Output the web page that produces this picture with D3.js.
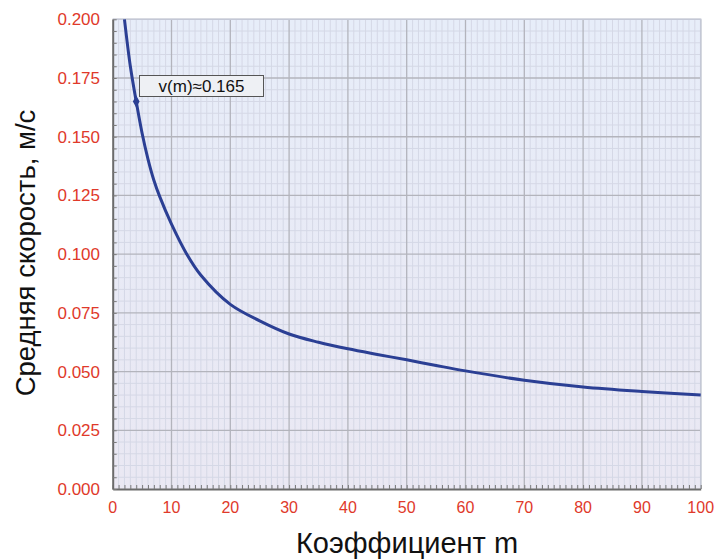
<!DOCTYPE html>
<html>
<head>
<meta charset="utf-8">
<script src="https://cdn.jsdelivr.net/npm/d3@7"></script>
<style>
  body { margin: 0; background: #fff; }
  svg { display: block; font-family: "Liberation Sans", Arial, sans-serif; }
</style>
</head>
<body>
<svg id="chart"></svg>
<script>
// values
var mValues = [2, 3, 4, 5, 6, 7, 8, 10, 12.6, 15, 20, 25, 30, 35, 40, 45, 50, 55, 60, 70, 80, 90, 100];
var vValues = [0.200, 0.180, 0.165, 0.1515, 0.1405, 0.1315, 0.1245, 0.1128, 0.100, 0.091, 0.0786, 0.0716, 0.0660, 0.0625, 0.0597, 0.0573, 0.0550, 0.0526, 0.0503, 0.0463, 0.0434, 0.0415, 0.0400];
var xTicks = [0, 10, 20, 30, 40, 50, 60, 70, 80, 90, 100];
var yTicks = [0, 0.025, 0.05, 0.075, 0.1, 0.125, 0.15, 0.175, 0.2];
var marker = { m: 4, v: 0.165, label: "v(m)\u22480.165" };

var w = 716, h = 559;
var pL = 112.7, pR = 700.7, pT = 19.3, pB = 489;

var svg = d3.select("#chart").attr("width", w).attr("height", h);

var x = d3.scaleLinear().domain([0, 100]).range([pL, pR]);
var y = d3.scaleLinear().domain([0, 0.2]).range([pB, pT]);

var defs = svg.append("defs");
var grad = defs.append("linearGradient").attr("id", "bg")
  .attr("x1", 0).attr("y1", 0).attr("x2", 0).attr("y2", 1);
grad.append("stop").attr("offset", "0%").attr("stop-color", "#e7edf9");
grad.append("stop").attr("offset", "100%").attr("stop-color", "#eae8f3");

svg.append("rect")
  .attr("x", pL).attr("y", pT)
  .attr("width", pR - pL).attr("height", pB - pT)
  .attr("fill", "url(#bg)");

// minor grid
var g = svg.append("g");
g.selectAll("line.mx")
  .data(d3.range(0, 101, 1).filter(function(d){ return d % 10 !== 0; }))
  .enter().append("line").attr("class", "mx")
  .attr("x1", function(d){ return x(d); }).attr("x2", function(d){ return x(d); })
  .attr("y1", pT).attr("y2", pB)
  .attr("stroke", "#d5d8e6").attr("stroke-width", 1);
g.selectAll("line.my")
  .data(d3.range(0, 41, 1).filter(function(d){ return d % 5 !== 0; }))
  .enter().append("line").attr("class", "my")
  .attr("y1", function(d){ return y(d * 0.005); }).attr("y2", function(d){ return y(d * 0.005); })
  .attr("x1", pL).attr("x2", pR)
  .attr("stroke", "#d5d8e6").attr("stroke-width", 1);

// major grid
g.selectAll("line.Mx")
  .data(xTicks.slice(1))
  .enter().append("line").attr("class", "Mx")
  .attr("x1", function(d){ return x(d); }).attr("x2", function(d){ return x(d); })
  .attr("y1", pT).attr("y2", pB)
  .attr("stroke", "#b3b4bc").attr("stroke-width", 1.3);
g.selectAll("line.My")
  .data(yTicks.slice(1))
  .enter().append("line").attr("class", "My")
  .attr("y1", function(d){ return y(d); }).attr("y2", function(d){ return y(d); })
  .attr("x1", pL).attr("x2", pR)
  .attr("stroke", "#b3b4bc").attr("stroke-width", 1.3);

// light frame on top and right
svg.append("path")
  .attr("d", "M" + pL + "," + pT + "H" + pR + "V" + pB)
  .attr("fill", "none").attr("stroke", "#c4c8d6").attr("stroke-width", 1.5);

// axes
var xAxis = d3.axisBottom(x).tickValues(d3.range(0, 101, 1)).tickSize(-4).tickSizeOuter(0).tickFormat("");
var yAxis = d3.axisLeft(y).tickValues(d3.range(0, 41, 1).map(function(d){ return d * 0.005; })).tickSize(-4).tickSizeOuter(0).tickFormat("");
var xa = svg.append("g").attr("transform", "translate(0," + pB + ")").call(xAxis);
var ya = svg.append("g").attr("transform", "translate(" + pL + ",0)").call(yAxis);
[xa, ya].forEach(function(a){
  a.select(".domain").attr("stroke", "#6b6b6b").attr("stroke-width", 2);
  a.selectAll(".tick line").attr("stroke", "#7a7a7a").attr("stroke-width", 1);
});

// tick labels
svg.selectAll("text.xt")
  .data(xTicks).enter().append("text").attr("class", "xt")
  .attr("x", function(d){ return x(d); }).attr("y", 513)
  .attr("text-anchor", "middle")
  .attr("font-size", 16).attr("fill", "#e0392a")
  .text(function(d){ return d; });
svg.selectAll("text.yt")
  .data(yTicks).enter().append("text").attr("class", "yt")
  .attr("x", 100).attr("y", function(d){ return y(d) + 6; })
  .attr("text-anchor", "end")
  .attr("font-size", 17).attr("fill", "#e0392a")
  .text(function(d){ return d3.format(".3f")(d); });

// axis titles
svg.append("text")
  .attr("x", 407).attr("y", 553)
  .attr("text-anchor", "middle")
  .attr("font-size", 29).attr("fill", "#111")
  .text("Коэффициент m");
svg.append("text")
  .attr("transform", "translate(35,253) rotate(-90)")
  .attr("text-anchor", "middle")
  .attr("font-size", 27.5).attr("fill", "#111")
  .text("Средняя скорость, м/с");

// curve
var pts = mValues.map(function(m, i){ return [m, vValues[i]]; });
var line = d3.line()
  .x(function(d){ return x(d[0]); })
  .y(function(d){ return y(d[1]); })
  .curve(d3.curveCatmullRom.alpha(0.5));
svg.append("path")
  .datum(pts)
  .attr("d", line)
  .attr("fill", "none")
  .attr("stroke", "#2b3f94")
  .attr("stroke-width", 3);

// marker + annotation
svg.append("path")
  .attr("d", d3.symbol().type(d3.symbolDiamond).size(40))
  .attr("transform", "translate(" + x(marker.m) + "," + y(marker.v) + ")")
  .attr("fill", "#2b3f94");
svg.append("rect")
  .attr("x", 139.5).attr("y", 75.5).attr("width", 124).attr("height", 21)
  .attr("fill", "#eef0f4").attr("stroke", "#555").attr("stroke-width", 1);
svg.append("text")
  .attr("x", 201.5).attr("y", 92)
  .attr("text-anchor", "middle")
  .attr("font-size", 17).attr("fill", "#111")
  .text(marker.label);
</script>
</body>
</html>
